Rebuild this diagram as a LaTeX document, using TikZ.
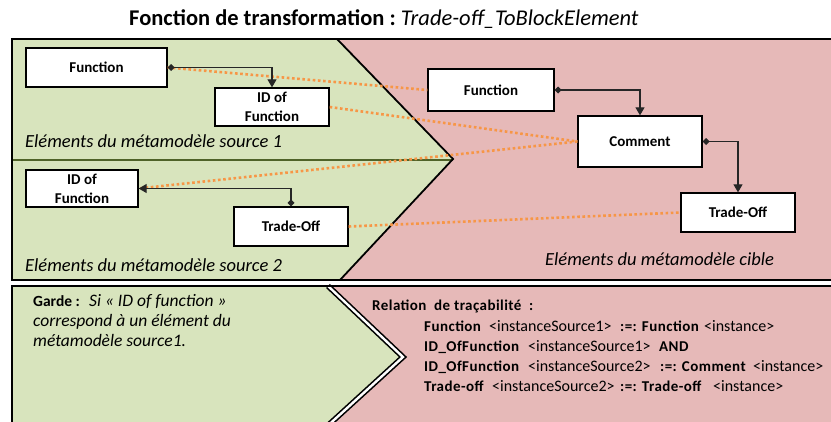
\documentclass[tikz,border=0pt]{standalone}
\usepackage{fontspec}
\setmainfont{Carlito}
\usepackage{tikz}
\usetikzlibrary{arrows.meta,calc,positioning}
\definecolor{srcgreen}{RGB}{216,228,189}
\definecolor{tgtpink}{RGB}{230,185,184}
\definecolor{lineolive}{RGB}{79,98,40}
\definecolor{traceorange}{RGB}{247,150,70}
\newcommand\kw[1]{{\fontsize{15}{20}\selectfont\bfseries\addfontfeature{LetterSpace=3}#1}}
\newcommand\cell[2]{\makebox[#1pt][l]{#2}}

\begin{document}
\begin{tikzpicture}[x=1pt,y=-1pt,>=Triangle,
  elem/.style={draw=black,fill=white,line width=1.3pt,inner sep=0pt,align=center,
    font=\bfseries\fontsize{15}{19}\selectfont},
  assoc/.style={draw=black!85,line width=1.1pt,
    {Diamond[length=7pt,width=7pt]}-{Triangle[length=8pt,width=9pt]}},
  trace/.style={traceorange,line width=2.6pt,dash pattern=on 2.6pt off 2.6pt},
  region/.style={anchor=west,inner sep=0pt,font=\itshape\fontsize{18.5}{20}\selectfont}]
\useasboundingbox (0,0) rectangle (831,421);
\clip (0,0) rectangle (831,421);
% ---------- titre ----------
\node[anchor=west,inner sep=0pt,font=\fontsize{22.5}{26}\selectfont] (title) at (129,19)
  {\bfseries Fonction de transformation :~\mdseries\itshape Trade-off\_ToBlockElement};
% ---------- partie haute : fonds ----------
\fill[tgtpink] (12,39) rectangle (840,280);
\fill[srcgreen] (12,39) -- (337,39) -- (453,159) -- (340,280) -- (12,280) -- cycle;
\draw[lineolive,line width=2.5pt] (12,160) -- (453,160);
\draw[black,line width=1.8pt] (337,39) -- (453,159) -- (340,280);
\draw[black,line width=2pt] (840,39) -- (12,39) -- (12,280) -- (840,280);
% ---------- partie basse : fonds ----------
\fill[tgtpink] (12,286) rectangle (840,430);
\fill[srcgreen] (12,286) -- (328,286) -- (403,357) -- (323,430) -- (12,430) -- cycle;
\draw[black,line width=1.6pt,double=white,double distance=2.4pt] (328,286) -- (403,357) -- (323,430);
\draw[black,line width=2.4pt] (840,286) -- (12,286) -- (12,430);
% ---------- elements source ----------
\node[elem,minimum width=141pt,minimum height=39pt] (srcFun) at (96.5,67.5) {Function};
\node[elem,minimum width=114pt,minimum height=38pt] (srcId1) at (272,107) {ID of\\Function};
\node[elem,minimum width=112pt,minimum height=37pt] (srcId2) at (82,188.5) {ID of\\Function};
\node[elem,minimum width=114pt,minimum height=39pt] (srcTrade) at (291,226.5) {Trade-Off};
% ---------- elements cible ----------
\node[elem,minimum width=126pt,minimum height=42pt] (tgtFun) at (491,90) {Function};
\node[elem,minimum width=124pt,minimum height=51pt] (tgtComment) at (640,141.5) {Comment};
\node[elem,minimum width=114pt,minimum height=39pt] (tgtTrade) at (738,212.5) {Trade-Off};
% ---------- libelles ----------
\node[region] (lblSrc1) at (25,141) {Eléments du métamodèle source 1};
\node[region] (lblSrc2) at (25,265) {Eléments du métamodèle source 2};
\node[region] (lblTgt) at (545,259) {Eléments du métamodèle cible};
% ---------- traces ----------
\draw[trace] (srcFun.east) -- (tgtFun.west);
\draw[trace] (srcId1.east) -- (tgtComment.west);
\draw[trace] (tgtComment.west) -- (srcId2.east);
\draw[trace] (srcTrade.east) -- (tgtTrade.west);
% ---------- associations ----------
\draw[assoc] (srcFun.east) -| (srcId1.north);
\draw[assoc] (srcTrade.north) |- (srcId2.east);
\draw[assoc] (tgtFun.east) -| (tgtComment.north);
\draw[assoc] (tgtComment.east) -| (tgtTrade.north);
% ---------- garde et relation ----------
\node[anchor=north west,inner sep=0pt,align=left,font=\itshape\fontsize{17.5}{20}\selectfont] (guard) at (33,294)
  {{\upshape\bfseries\fontsize{15.5}{20}\selectfont Garde :}~ Si « ID of function »\\
   correspond à un élément du\\
   métamodèle source1.};
\node[anchor=north west,inner sep=0pt,align=left,font=\fontsize{16}{20.3}\selectfont] (relation) at (372,300)
  {\kw{Relation~ de traçabilité~ :}\\
   \hspace*{52pt}\cell{65}{\kw{Function}}\cell{131}{<instanceSource1>}\cell{84}{\kw{:=: Function}}<instance>\\
   \hspace*{52pt}\cell{104}{\kw{ID\_OfFunction}}\cell{131}{<instanceSource1>}\kw{AND}\\
   \hspace*{52pt}\cell{104}{\kw{ID\_OfFunction}}\cell{132}{<instanceSource2>}\cell{93}{\kw{:=: Comment}}<instance>\\
   \hspace*{52pt}\cell{68}{\kw{Trade-off}}\cell{128}{<instanceSource2>}\cell{93}{\kw{:=: Trade-off}}<instance>};
\end{tikzpicture}
\end{document}
